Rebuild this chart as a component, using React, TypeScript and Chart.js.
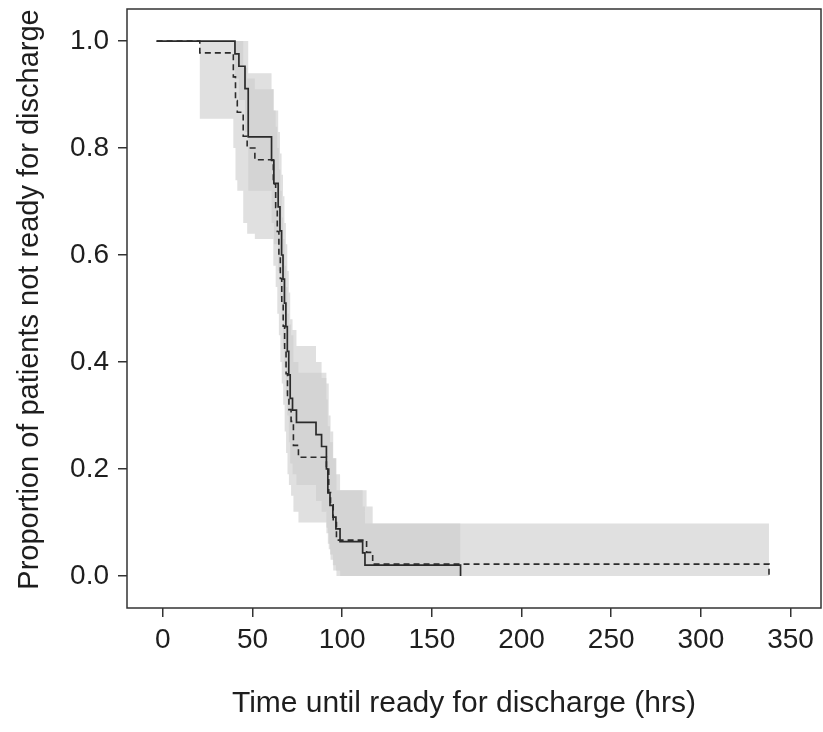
import { useEffect, useRef } from "react";
import { Chart, registerables } from "chart.js";

Chart.register(...registerables);

// ---- axis / labels ----
const X_TICKS = [0, 50, 100, 150, 200, 250, 300, 350];
const Y_TICKS = [0, 0.2, 0.4, 0.6, 0.8, 1.0];
const Y_TICK_LABELS = ["0.0", "0.2", "0.4", "0.6", "0.8", "1.0"];
const X_TITLE = "Time until ready for discharge (hrs)";
const Y_TITLE = "Proportion of patients not ready for discharge";

// ---- solid curve (group B) ----
const T_B = [-3.5, 40.2, 42.4, 45.8, 47.6, 60.6, 61.9, 64.3, 65.3, 66.2, 67.0, 67.8, 68.6, 69.4, 70.2, 71.0, 72.3, 74.5, 85.4, 88.5, 91.2, 92.0, 93.2, 94.8, 96.5, 98.8, 111.4, 112.7, 166];
const S_B = [1.0, 0.976, 0.953, 0.911, 0.821, 0.777, 0.734, 0.69, 0.645, 0.60, 0.555, 0.51, 0.466, 0.42, 0.376, 0.332, 0.31, 0.287, 0.264, 0.242, 0.20, 0.155, 0.132, 0.11, 0.088, 0.064, 0.043, 0.02, 0.0];
const UB = [1.0, 1.0, 1.0, 1.0, 0.94, 0.91, 0.87, 0.83, 0.79, 0.75, 0.71, 0.66, 0.62, 0.57, 0.53, 0.48, 0.46, 0.43, 0.40, 0.37, 0.33, 0.28, 0.25, 0.22, 0.19, 0.16, 0.13, 0.098, 0.098];
const LB = [1.0, 0.93, 0.89, 0.83, 0.72, 0.66, 0.62, 0.57, 0.52, 0.48, 0.43, 0.39, 0.34, 0.30, 0.25, 0.21, 0.19, 0.17, 0.14, 0.12, 0.09, 0.06, 0.04, 0.02, 0.01, 0.0, 0.0, 0.0, 0.0];

// ---- dashed curve (group A) ----
const T_A = [-3.5, 20.6, 39.3, 40.5, 41.5, 44.8, 47.0, 51.3, 61.6, 62.9, 63.8, 64.7, 65.5, 66.3, 67.1, 67.9, 68.7, 69.5, 70.3, 71.5, 72.8, 75.6, 91.2, 92.5, 93.5, 95.0, 96.8, 113.6, 117.0, 338];
const S_A = [1.0, 0.978, 0.933, 0.889, 0.867, 0.822, 0.80, 0.778, 0.733, 0.689, 0.644, 0.60, 0.556, 0.511, 0.467, 0.422, 0.378, 0.333, 0.311, 0.289, 0.244, 0.222, 0.20, 0.156, 0.133, 0.10, 0.067, 0.044, 0.022, 0.0];
const UA = [1.0, 1.0, 1.0, 1.0, 1.0, 0.95, 0.93, 0.91, 0.87, 0.84, 0.80, 0.76, 0.72, 0.67, 0.63, 0.58, 0.54, 0.49, 0.47, 0.45, 0.40, 0.38, 0.36, 0.30, 0.27, 0.22, 0.16, 0.13, 0.098, 0.098];
const LA = [1.0, 0.855, 0.80, 0.74, 0.72, 0.66, 0.64, 0.63, 0.58, 0.54, 0.49, 0.45, 0.40, 0.36, 0.32, 0.27, 0.23, 0.19, 0.17, 0.15, 0.12, 0.10, 0.08, 0.05, 0.03, 0.01, 0.0, 0.0, 0.0, 0.0];

const LINE = "#2b2b2b";
const BAND = "rgba(205,205,205,0.62)";
const FONT = "'Liberation Sans', Arial, Helvetica, sans-serif";
const TEXT = "#1e1e1e";

const pts = (t: number[], s: number[]) => t.map((x, i) => ({ x, y: s[i] }));

export default function App() {
  const ref = useRef<HTMLCanvasElement>(null);

  useEffect(() => {
    if (!ref.current) return;
    const framePlugin = {
      id: "frameBox",
      afterDatasetsDraw(chart: any) {
        const { ctx, chartArea: a } = chart;
        ctx.save();
        ctx.strokeStyle = "#333";
        ctx.lineWidth = 1.5;
        ctx.strokeRect(a.left, a.top, a.right - a.left, a.bottom - a.top);
        ctx.restore();
      },
      afterDraw(chart: any) {
        const { ctx, chartArea: a } = chart;
        ctx.save();
        ctx.fillStyle = TEXT;
        ctx.textAlign = "center";
        ctx.textBaseline = "middle";
        ctx.font = `30px ${FONT}`;
        ctx.fillText(X_TITLE, (a.left + a.right) / 2 - 10, a.bottom + 96);
        ctx.translate(30, (a.top + a.bottom) / 2 - 9);
        ctx.rotate(-Math.PI / 2);
        ctx.font = `29px ${FONT}`;
        ctx.fillText(Y_TITLE, 0, 0);
        ctx.restore();
      },
    };
    const band = (t: number[], s: number[], fill: any) => ({
      data: pts(t, s),
      stepped: "before" as const,
      borderWidth: 0,
      borderColor: "rgba(0,0,0,0)",
      backgroundColor: BAND,
      pointRadius: 0,
      fill,
    });
    const chart = new Chart(ref.current, {
      type: "line",
      data: {
        datasets: [
          { label: "solid", data: pts(T_B, S_B), stepped: "before", borderColor: LINE, borderWidth: 1.7, pointRadius: 0, fill: false },
          { label: "dashed", data: pts(T_A, S_A), stepped: "before", borderColor: LINE, borderWidth: 1.6, borderDash: [6, 4], pointRadius: 0, fill: false },
          { label: "upperB", ...band(T_B, UB, "+1") },
          { label: "lowerB", ...band(T_B, LB, false) },
          { label: "upperA", ...band(T_A, UA, "+1") },
          { label: "lowerA", ...band(T_A, LA, false) },
        ] as any,
      },
      options: {
        responsive: true,
        maintainAspectRatio: false,
        animation: false,
        layout: { padding: { top: 9, right: 2, left: 0, bottom: 0 } },
        plugins: { legend: { display: false }, tooltip: { enabled: false } },
        scales: {
          x: {
            type: "linear",
            min: -20,
            max: 367,
            afterBuildTicks: (s: any) => { s.ticks = X_TICKS.map((v) => ({ value: v })); },
            afterFit: (s: any) => { s.height = 124; s.paddingLeft = 0; s.paddingRight = 0; },
            ticks: { font: { family: FONT, size: 28 }, color: TEXT, padding: 6, maxRotation: 0, autoSkip: false, callback: (v: any) => String(v) },
            grid: { drawOnChartArea: false, drawTicks: true, tickLength: 9, color: "#333", lineWidth: 1.5 },
            border: { display: false },
            title: { display: false },
          },
          y: {
            type: "linear",
            min: -0.06,
            max: 1.06,
            afterBuildTicks: (s: any) => { s.ticks = Y_TICKS.map((v) => ({ value: v })); },
            afterFit: (s: any) => { s.width = 127; s.paddingTop = 0; s.paddingBottom = 0; },
            ticks: { font: { family: FONT, size: 28 }, color: TEXT, padding: 9, autoSkip: false, callback: (_v: any, i: number) => Y_TICK_LABELS[i] },
            grid: { drawOnChartArea: false, drawTicks: true, tickLength: 9, color: "#333", lineWidth: 1.5 },
            border: { display: false },
            title: { display: false },
          },
        },
      } as any,
      plugins: [framePlugin],
    });
    return () => chart.destroy();
  }, []);

  return (
    <div style={{ position: "fixed", left: 0, top: 0, width: 823, height: 732, background: "#fff" }}>
      <canvas ref={ref} />
    </div>
  );
}
